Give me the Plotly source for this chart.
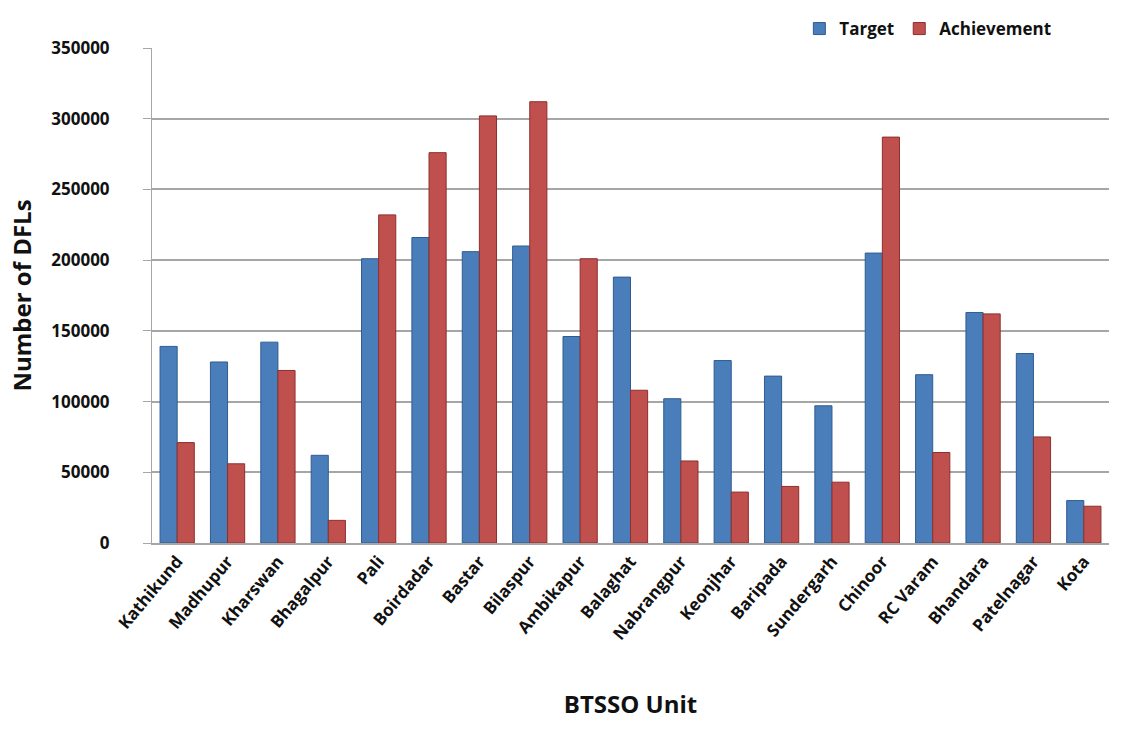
import plotly.graph_objects as go

units = ["Kathikund", "Madhupur", "Kharswan", "Bhagalpur", "Pali", "Boirdadar", "Bastar",
         "Bilaspur", "Ambikapur", "Balaghat", "Nabrangpur", "Keonjhar", "Baripada",
         "Sundergarh", "Chinoor", "RC Varam", "Bhandara", "Patelnagar", "Kota"]
target = [139000, 128000, 142000, 62000, 201000, 216000, 206000, 210000, 146000, 188000,
          102000, 129000, 118000, 97000, 205000, 119000, 163000, 134000, 30000]
achievement = [71000, 56000, 122000, 16000, 232000, 276000, 302000, 312000, 201000, 108000,
               58000, 36000, 40000, 43000, 287000, 64000, 162000, 75000, 26000]
y_ticks = [0, 50000, 100000, 150000, 200000, 250000, 300000, 350000]

FONT = "Open Sans"

fig = go.Figure()
fig.add_trace(go.Bar(name="Target", x=units, y=target,
                     marker=dict(color="#4A7EBB", line=dict(color="#2F5C8F", width=1))))
fig.add_trace(go.Bar(name="Achievement", x=units, y=achievement,
                     marker=dict(color="#C0504D", line=dict(color="#8E2F2C", width=1))))

fig.update_layout(
    width=1121, height=731,
    paper_bgcolor="white", plot_bgcolor="white",
    barmode="group", bargap=0.32, bargroupgap=0.0,
    margin=dict(l=152, r=12, t=47, b=188),
    font=dict(family=FONT, color="#222222"),
    legend=dict(orientation="h", x=0.945, xanchor="right", y=1.0, yanchor="bottom",
                font=dict(family=FONT, size=17, color="#111111", weight="bold"),
                itemwidth=30, traceorder="normal"),
    showlegend=True,
)
fig.update_yaxes(
    range=[0, 350000], tickvals=y_ticks, ticktext=[str(v) for v in y_ticks],
    showgrid=True, gridcolor="#A6A6A6", gridwidth=1.5,
    showline=True, linecolor="#A6A6A6", linewidth=1,
    ticks="outside", tickcolor="#A6A6A6", ticklen=8,
    ticklabelstandoff=30,
    tickfont=dict(family=FONT, size=17, color="#111111", weight="bold"),
    title=dict(text="Number of DFLs", font=dict(family=FONT, size=24, color="#111111", weight="bold"),
               standoff=12),
    zeroline=False,
)
fig.update_xaxes(
    showline=True, linecolor="#A6A6A6", linewidth=1.5,
    tickangle=-50,
    tickfont=dict(family=FONT, size=17, color="#111111", weight="bold"),
    title=dict(text="BTSSO Unit", font=dict(family=FONT, size=24, color="#111111", weight="bold"),
               standoff=53),
)

fig.write_html("out.html")
